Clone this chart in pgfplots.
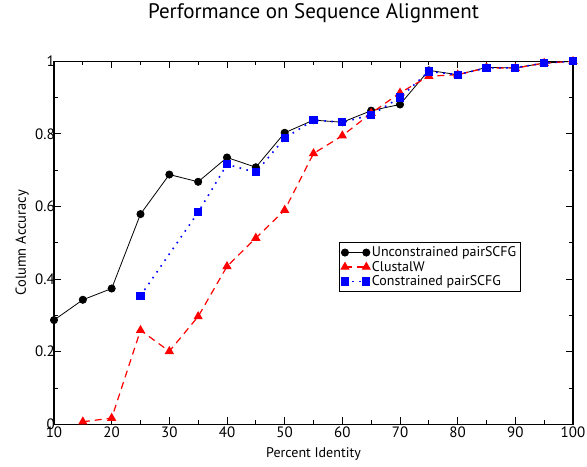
\documentclass[border=0pt]{standalone}
\usepackage{pgfplots}
\pgfplotsset{compat=1.18}
\usetikzlibrary{calc}
\usepackage{fontspec}
\setmainfont{PT Sans}
\begin{document}
\begin{tikzpicture}
\begin{axis}[
  scale only axis,
  width=519pt, height=363pt,
  xmin=10, xmax=100, ymin=0, ymax=1,
  xtick={10,20,...,100}, minor xtick={15,25,...,95},
  ytick={0,0.2,0.4,0.6,0.8,1}, minor ytick={0.1,0.3,0.5,0.7,0.9},
  yticklabels={0,0.2,0.4,0.6,0.8,1},
  tick align=inside,
  major tick length=7pt, minor tick length=4pt,
  tick style={black, line width=0.8pt},
  axis line style={line width=1.3pt},
  /pgf/number format/assume math mode=true,
  tick label style={font=\fontsize{15}{17}\selectfont},
  xticklabel style={yshift=-1pt, inner sep=1pt},
  yticklabel style={xshift=2pt, inner sep=1pt},
  xlabel={Percent Identity}, ylabel={Column Accuracy},
  xlabel style={font=\fontsize{14}{16}\selectfont, at={(axis description cs:0.5,0)}, anchor=base, yshift=-33pt},
  ylabel style={font=\fontsize{14.5}{16}\selectfont, at={(axis description cs:-0.054,0.5)}, anchor=base},
  title={Performance on Sequence Alignment},
  title style={font=\fontsize{21}{24}\selectfont, at={(axis description cs:0.5,1)}, anchor=base, yshift=37pt},
  legend style={at={(0.549,0.501)}, anchor=north west, font=\fontsize{14}{15}\selectfont,
    draw=black, line width=0.8pt, row sep=-1pt, inner sep=2pt},
  legend cell align=left,
  legend image code/.code={\draw[#1] (0pt,0pt) -- (0.75cm,0pt) plot coordinates {(0pt,0pt) (0.75cm,0pt)};},
]
\addplot[black, line width=0.8pt, mark=*, mark size=3.6pt, mark options={solid}] coordinates {
(10,0.287) (15,0.343) (20,0.374) (25,0.579) (30,0.688) (35,0.668) (40,0.735) (45,0.708) (50,0.803) (55,0.838) (60,0.832) (65,0.864) (70,0.881) (75,0.975) (80,0.963) (85,0.983) (90,0.982) (95,0.995) (100,1.0)
};
\addlegendentry{Unconstrained pairSCFG}
\addplot[red, line width=1.2pt, dash pattern=on 7pt off 5pt, mark=triangle*, mark size=4.2pt, mark options={solid}] coordinates {
(15,0.007) (20,0.017) (25,0.259) (30,0.201) (35,0.297) (40,0.435) (45,0.513) (50,0.59) (55,0.746) (60,0.795) (65,0.857) (70,0.913) (75,0.959) (80,0.963) (85,0.982) (90,0.981) (95,0.995) (100,1.0)
};
\addlegendentry{ClustalW}
\addplot[blue, line width=1.6pt, dash pattern=on 1.6pt off 5.5pt, mark=square*, mark size=3.3pt, mark options={solid}] coordinates {
(25,0.354) (35,0.584) (40,0.716) (45,0.694) (50,0.788) (55,0.838) (60,0.832) (65,0.852) (70,0.900) (75,0.972) (80,0.963) (85,0.982) (90,0.982) (95,0.995) (100,1.0)
};
\addlegendentry{Constrained pairSCFG}
\end{axis}
\path ($(current axis.south west)+(-54pt,-42pt)$) rectangle ($(current axis.north east)+(14pt,61pt)$);
\end{tikzpicture}
\end{document}
